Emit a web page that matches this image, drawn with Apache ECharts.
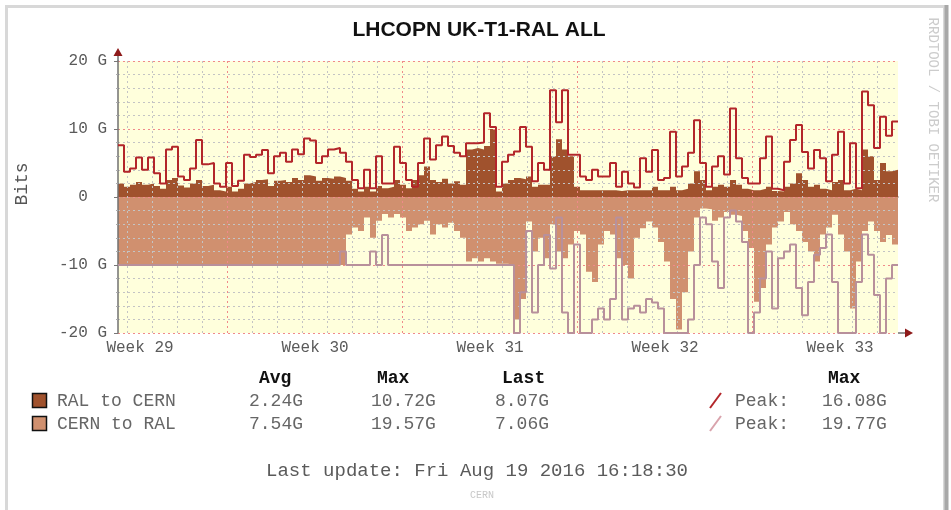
<!DOCTYPE html>
<html><head><meta charset="utf-8">
<script src="https://cdn.jsdelivr.net/npm/echarts@6/dist/echarts.min.js"></script>
<style>html,body{margin:0;padding:0;background:#fff}#c{width:951px;height:510px}</style>
</head><body><div id="c"></div>
<script>
// ---- data (values in Gbit/s, one sample every 0.24 day) ----
const sampleDays = 0.24;
const ralToCernAvg = [
 2.0,1.5,1.8,2.2,1.8,2.0,1.6,1.2,2.5,2.8, 1.7,1.4,2.0,2.5,1.6,1.8,1.0,0.8,1.5,0.8,
 1.2,2.0,2.2,2.5,2.6,1.6,2.4,2.5,2.2,2.8, 2.5,3.2,3.0,2.4,2.8,2.7,3.0,2.8,2.4,1.2,
 0.8,1.5,0.8,1.6,
 1.3,1.5,2.5,1.8,1.3,2.5,3.2,4.5,2.5,2.2, 2.7,2.0,2.3,1.8,7.0,7.2,7.0,7.5,10.0,0.8,
 2.0,2.5,2.8,2.6,3.0,1.5,1.8,1.8,6.0,8.5, 7.0,6.0,1.5,1.0,1.0,1.0,1.0,1.0,1.0,0.9,
 1.0,1.0,1.0,
 1.0,1.0,1.5,1.0,1.0,1.5,1.0,1.2,2.0,3.8, 2.5,1.0,1.5,1.8,1.5,2.5,1.8,1.2,1.0,1.0,
 1.2,1.5,0.9,0.8,1.5,2.0,3.5,2.5,1.5,1.8, 1.2,1.0,2.2,2.5,1.0,1.2,1.0,7.0,6.0,2.5,
 5.0,3.8,4.0
];
const ralToCernPeak = [
 7.6,3.7,4.2,5.8,4.0,5.8,3.5,2.0,7.0,7.4, 3.0,2.5,4.2,8.4,4.8,5.0,2.0,1.5,5.0,1.6,
 2.4,6.2,5.9,6.2,6.9,3.5,6.0,6.5,5.2,7.0, 6.3,8.6,8.3,5.0,6.0,7.0,7.2,6.5,5.2,2.5,
 1.3,4.0,1.3,6.0,
 2.0,2.0,7.4,5.0,2.5,1.5,5.0,8.6,5.5,7.6, 8.9,7.5,6.5,6.0,7.9,7.9,8.0,12.3,10.3,1.5,
 5.2,6.2,6.7,10.3,7.4,2.3,5.0,4.0,15.7,11.0, 15.7,6.2,6.2,3.0,2.5,4.0,3.0,3.0,5.0,1.5,
 3.7,2.0,1.4,
 5.7,3.7,6.9,2.5,2.8,9.6,3.0,4.5,6.5,11.3, 5.0,1.5,4.5,6.0,3.3,13.0,5.7,2.8,2.0,2.0,
 5.7,8.9,1.2,1.0,5.2,8.4,10.6,6.6,4.2,6.9, 5.7,2.3,6.2,9.6,2.0,7.9,1.3,15.5,13.5,7.2,
 11.8,9.0,11.1
];
const cernToRalAvg = [
 -10,-10,-10,-10,-10,-10,-10,-10,-10,-10, -10,-10,-10,-10,-10,-10,-10,-10,-10,-10,
 -10,-10,-10,-10,-10,-10,-10,-10,-10,-10, -10,-10,-10,-10,-10,-10,-10,-10,
 -5.5,-4.5,-5.0,-3.0,-6.0,-3.5,
 -2.5,-3.0,-2.5,-3.0,-5.0,-4.5,-4.0,-3.5,-5.5,-4.0,-4.5,-3.8,-5.0,-6.0,
 -9.5,-9.0,-9.5,-9.0,-9.5,-9.8,-9.8,
 -10,-18,-15,-3.6,-8,-6,-9,-4,-8,-9, -7,-5,-5.5,-11,-12.5,-7,-5,-5.5,-9,-10, -12,-6,
 -4.6,-3.6,-4.5,-6.6,-9.5,-15,-19.5,-14,-8,-3, -1.7,-1.8,-3.5,-3.0,-2.2,-2.6,-2.8,-5.0,-7.5,-15.4,
 -13.4,-7.0,-4.5,-3.6,-2.2,-4.0,-5.0,-6.6,-8.0,-9.5, -5.5,-4.5,-2.6,-5.5,-8.0,-16.4,-9.5,-5.0,-3.6,-5.0,
 -6.6,-5.6,-7.0
];
const cernToRalPeak = [
 -10,-10,-10,-10,-10,-10,-10,-10,-10,-10, -10,-10,-10,-10,-10,-10,-10,-10,-10,-10,
 -10,-10,-10,-10,-10,-10,-10,-10,-10,-10, -10,-10,-10,-10,-10,-10,-10,
 -8,-10,-10,-10,-10,-8,-10,
 -5.6,-10,-10,-10,-10,-10,-10,-10,-10,-10, -10,-10,-10,-10,-10,-10,-10,-10,-10,-10, -10,
 -10,-20,-14,-5,-17,-10,-5.6,-10.5,-3,-17, -20,-7,-20,-20,-18,-16.4,-18,-15,-3,-18, -16.4,-16,
 -17,-15,-15.5,-16.4,-20,-20,-20,-20,-18,-10, -3.0,-4.0,-9.5,-13.4,-3.0,-2.0,-3.6,-6.6,-20,-17,
 -12,-8,-16.4,-9,-8,-7,-13.4,-17.4,-12.5,-8.5, -7.5,-5.5,-12.5,-20,-20,-20,-12.5,-5.5,-8.5,-14.4,
 -20,-12,-10
];
const weekLabels = ['Week 29','Week 30','Week 31','Week 32','Week 33'];
const weekLabelDays = [0.88, 7.88, 14.88, 21.88, 28.88];
const weekStartDays = [4.36, 11.36, 18.36, 25.36];
const firstMidnightDay = 0.36;
const spanDays = 31.2;
const legendNames = ['RAL to CERN', 'CERN to RAL'];
const legendAvg = ['2.24G', '7.54G'];
const legendMax = ['10.72G', '19.57G'];
const legendLast = ['8.07G', '7.06G'];
const legendPeakMax = ['16.08G', '19.77G'];

(function () {
// ---- styles ----
const MONO = '"Liberation Mono","DejaVu Sans Mono",monospace';
const C_OUT = '#A0522D', C_IN = '#D0906F', C_OUT_PK = '#B3262A', C_IN_PK = '#B8909B';

function toPoints(arr) {
  const pts = arr.map((v, i) => [i * sampleDays, v]);
  pts.push([arr.length * sampleDays, arr[arr.length - 1]]);
  return pts;
}
const dayLines = [];
for (let d = firstMidnightDay; d < spanDays; d += 1) {
  const dd = Math.round(d * 100) / 100;
  if (!weekStartDays.some(w => Math.abs(w - dd) < 0.01)) dayLines.push(dd);
}

const chart = echarts.init(document.getElementById('c'), null, {renderer: 'canvas'});
const option = {
  animation: false,
  backgroundColor: '#fff',
  grid: {left: 118, right: 53, top: 61, bottom: 177, show: true, backgroundColor: '#FFFFDC', borderWidth: 0},
  xAxis: {
    type: 'value', min: 0, max: spanDays,
    axisLine: {show: true, lineStyle: {color: '#707070', width: 1.5}},
    axisTick: {show: false},
    splitLine: {show: false},
    axisLabel: {
      customValues: weekLabelDays,
      formatter: v => {
        let best = 0;
        weekLabelDays.forEach((d, i) => { if (Math.abs(d - v) < Math.abs(weekLabelDays[best] - v)) best = i; });
        return weekLabels[best];
      },
      fontFamily: MONO, fontSize: 16, color: '#5a5a5a', margin: 7
    }
  },
  yAxis: {
    type: 'value', min: -20, max: 20, interval: 10, z: 5,
    axisLine: {show: true, lineStyle: {color: '#707070', width: 1.5}},
    axisTick: {show: true, length: 4, lineStyle: {color: '#777'}},
    minorTick: {show: true, splitNumber: 5, length: 2, lineStyle: {color: '#aaa'}},
    splitLine: {show: true, lineStyle: {color: '#F08A8A', type: [2, 3], width: 1}},
    minorSplitLine: {show: true, lineStyle: {color: '#C4C4C4', type: [2, 3], width: 1}},
    axisLabel: {
      formatter: v => v === 0 ? '0  ' : v + ' G',
      fontFamily: MONO, fontSize: 16, color: '#5a5a5a', margin: 11
    }
  },
  series: [
    {name: 'RAL to CERN', type: 'line', step: 'end', symbol: 'none', data: toPoints(ralToCernAvg),
     lineStyle: {width: 0}, areaStyle: {color: C_OUT, opacity: 1}, z: 2},
    {name: 'CERN to RAL', type: 'line', step: 'end', symbol: 'none', data: toPoints(cernToRalAvg),
     lineStyle: {width: 0}, areaStyle: {color: C_IN, opacity: 1}, z: 2},
    {name: 'grid', type: 'line', data: [], z: 4, silent: true,
     markLine: {silent: true, symbol: 'none', label: {show: false}, animation: false,
       data: dayLines.map(d => ({xAxis: d, lineStyle: {color: '#C4C4C4', type: [2, 3], width: 1}}))
         .concat(weekStartDays.map(d => ({xAxis: d, lineStyle: {color: '#F08A8A', type: [2, 3], width: 1}})))}},
    {name: 'RAL to CERN peak', type: 'line', step: 'end', symbol: 'none', data: toPoints(ralToCernPeak),
     lineStyle: {width: 2, color: C_OUT_PK}, z: 6},
    {name: 'CERN to RAL peak', type: 'line', step: 'end', symbol: 'none', data: toPoints(cernToRalPeak),
     lineStyle: {width: 2, color: C_IN_PK}, z: 6}
  ]
};
chart.setOption(option);

// ---- decorations and legend table ----
const pA = chart.convertToPixel({gridIndex: 0}, [0, -20]);
const pB = chart.convertToPixel({gridIndex: 0}, [spanDays, 20]);
const gL = pA[0], gB = pA[1], gR = pB[0], gT = pB[1];
const ARROW = '#8E1A1A';
const txt = (text, x, y, opts) => ({type: 'text', x, y, silent: true,
  style: Object.assign({text, font: '18px ' + MONO, fill: '#666', textAlign: 'left', textVerticalAlign: 'middle'}, opts || {})});
const rowY = [401, 424];
const graphics = [
  {type: 'rect', silent: true, shape: {x: 6.5, y: 6.5, width: 938, height: 520}, style: {fill: 'none', stroke: '#D8D8D8', lineWidth: 3}},
  {type: 'line', silent: true, shape: {x1: 946.5, y1: 5, x2: 946.5, y2: 510}, style: {stroke: '#A8A8A8', lineWidth: 4}},
  {type: 'line', silent: true, shape: {x1: gR, y1: gB, x2: gR + 8, y2: gB}, style: {stroke: '#707070', lineWidth: 1.5}},
  {type: 'line', silent: true, shape: {x1: gL, y1: gT, x2: gL, y2: gT - 6}, style: {stroke: '#707070', lineWidth: 1.5}},
  {type: 'polygon', silent: true, shape: {points: [[gR + 7, gB - 4.5], [gR + 15, gB], [gR + 7, gB + 4.5]]}, style: {fill: ARROW}},
  {type: 'polygon', silent: true, shape: {points: [[gL - 4.5, gT - 5], [gL, gT - 13], [gL + 4.5, gT - 5]]}, style: {fill: ARROW}},
  txt('LHCOPN UK-T1-RAL ALL', 479, 30, {font: 'bold 21px "Liberation Sans",Arial,sans-serif', fill: '#111', textAlign: 'center'}),
  {type: 'text', x: 22, y: 184, rotation: Math.PI / 2, silent: true,
   style: {text: 'Bits', font: '18px ' + MONO, fill: '#555', textAlign: 'center', textVerticalAlign: 'middle'}},
  {type: 'text', x: 933, y: 110, rotation: -Math.PI / 2, silent: true,
   style: {text: 'RRDTOOL / TOBI OETIKER', font: '14px ' + MONO, fill: '#CCCCCC', textAlign: 'center', textVerticalAlign: 'middle'}},
  txt('Avg', 259, 378, {font: 'bold 18px ' + MONO, fill: '#111'}),
  txt('Max', 377, 378, {font: 'bold 18px ' + MONO, fill: '#111'}),
  txt('Last', 502, 378, {font: 'bold 18px ' + MONO, fill: '#111'}),
  txt('Max', 828, 378, {font: 'bold 18px ' + MONO, fill: '#111'}),
  txt('Last update: Fri Aug 19 2016 16:18:30', 477, 471, {textAlign: 'center', font: '19px ' + MONO, fill: '#5a5a5a'}),
  txt('CERN', 482, 495, {textAlign: 'center', font: '10px ' + MONO, fill: '#C8C8C8'})
];
const boxColors = [C_OUT, C_IN];
const slashColors = [C_OUT_PK, '#D9A3AC'];
legendNames.forEach((name, i) => {
  const y = rowY[i];
  graphics.push({type: 'rect', silent: true, shape: {x: 32.5, y: y - 7.5, width: 14, height: 14}, style: {fill: boxColors[i], stroke: '#111', lineWidth: 1.5}});
  graphics.push(txt(name, 57, y));
  graphics.push(txt(legendAvg[i], 249, y));
  graphics.push(txt(legendMax[i], 371, y));
  graphics.push(txt(legendLast[i], 495, y));
  graphics.push({type: 'line', silent: true, shape: {x1: 710, y1: y + 7, x2: 721, y2: y - 8}, style: {stroke: slashColors[i], lineWidth: 2}});
  graphics.push(txt('Peak:', 735, y));
  graphics.push(txt(legendPeakMax[i], 822, y));
});
chart.setOption({graphic: graphics});
})();
</script>
</body></html>
